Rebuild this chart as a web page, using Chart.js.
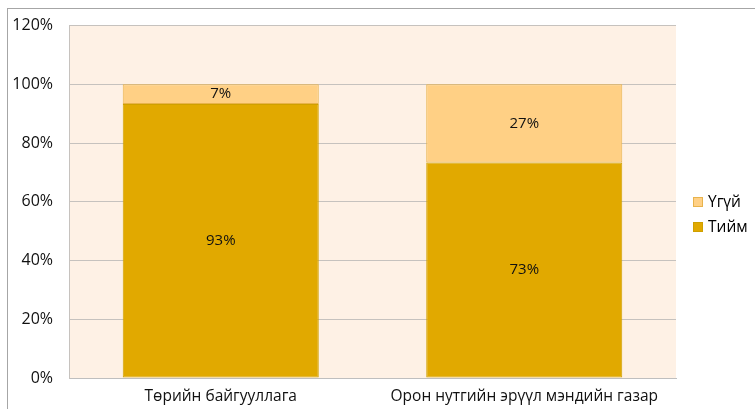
<!DOCTYPE html>
<html><head><meta charset="utf-8">
<script src="https://cdn.jsdelivr.net/npm/chart.js@4"></script>
<style>
html,body{margin:0;padding:0;background:#fff;}
#wrap{position:relative;width:755px;height:409px;overflow:hidden;background:#fff;font-family:"Open Sans","Noto Sans",sans-serif;}
#frame{position:absolute;left:7px;top:8px;width:760px;height:420px;border-top:1px solid #A6A6A6;border-left:1px solid #A6A6A6;}
#c{position:absolute;left:0;top:0;}
#legend{position:absolute;left:693px;top:189px;font-size:15.5px;color:#000;line-height:25px;}
#legend .it{display:flex;align-items:center;}
#legend .sw{width:10px;height:10px;margin-right:5px;box-sizing:border-box;}
</style></head><body>
<div id="wrap"><div id="frame"></div><canvas id="c" width="755" height="409"></canvas>
<div id="legend"></div></div>
<script>
const categories = ["Төрийн байгууллага", "Орон нутгийн эрүүл мэндийн газар"];
const yesValues = [93.3, 73.4];
const noValues = [6.7, 26.6];
const seriesNames = ["Тийм", "Үгүй"];
const yTicks = [0, 20, 40, 60, 80, 100, 120];

const YES = "#E1A900", NO = "#FFD085";
const FONT = '"Open Sans", "Noto Sans", sans-serif';

const bgPlugin = {
  id: 'bg',
  beforeDraw(chart) {
    const {ctx, chartArea: a} = chart;
    ctx.save(); ctx.fillStyle = "#FEF1E5";
    ctx.fillRect(a.left, a.top, a.right - a.left, a.bottom - a.top);
    ctx.restore();
  }
};
const labelPlugin = {
  id: 'lbl',
  afterDatasetsDraw(chart) {
    const ctx = chart.ctx;
    ctx.save();
    ctx.font = '15px ' + FONT;
    ctx.fillStyle = '#111'; ctx.textAlign = 'center'; ctx.textBaseline = 'middle';
    chart.data.datasets.forEach((ds, di) => {
      chart.getDatasetMeta(di).data.forEach((el, i) => {
        const v = ds.data[i];
        const y = (el.y + el.base) / 2;
        ctx.fillText(Math.round(v) + '%', el.x, y);
      });
    });
    ctx.restore();
  }
};

new Chart(document.getElementById('c'), {
  type: 'bar',
  data: {
    labels: categories,
    datasets: [
      {label: seriesNames[0], data: yesValues, backgroundColor: YES, borderColor: "#CFA000", borderWidth: 1, borderSkipped: false, categoryPercentage: 0.646, barPercentage: 1},
      {label: seriesNames[1], data: noValues, backgroundColor: NO, borderColor: "#E8B34C", borderWidth: 1, borderSkipped: false, categoryPercentage: 0.646, barPercentage: 1}
    ]
  },
  options: {
    responsive: false, animation: false,
    layout: {padding: {left: 0, top: 24, right: 79, bottom: 0}},
    plugins: {legend: {display: false}, tooltip: {enabled: false}, title: {display: false}},
    scales: {
      x: {
        stacked: true,
        grid: {display: false, drawTicks: false},
        border: {display: true, color: '#BFBFBF'},
        ticks: {color: '#111', font: {size: 15.5, family: FONT}, padding: 9, maxRotation: 0},
        afterFit(s) { s.height = 31; }
      },
      y: {
        stacked: true, min: 0, max: 120,
        afterBuildTicks(s) { s.ticks = yTicks.map(v => ({value: v})); },
        grid: {color: '#C6C2BE', drawTicks: false},
        border: {display: true, color: '#C6C2BE'},
        ticks: {color: '#111', font: {size: 16, family: FONT}, padding: 16, callback: v => v + '%'},
        afterFit(s) { s.width = 69; }
      }
    }
  },
  plugins: [bgPlugin, labelPlugin]
});

const lg = document.getElementById('legend');
[[seriesNames[1], NO, "#E8B34C"], [seriesNames[0], YES, "#CFA000"]].forEach(([n, c, b]) => {
  const d = document.createElement('div'); d.className = 'it';
  d.innerHTML = '<span class="sw" style="background:' + c + ';border:1px solid ' + b + '"></span><span>' + n + '</span>';
  lg.appendChild(d);
});
</script>
</body></html>
